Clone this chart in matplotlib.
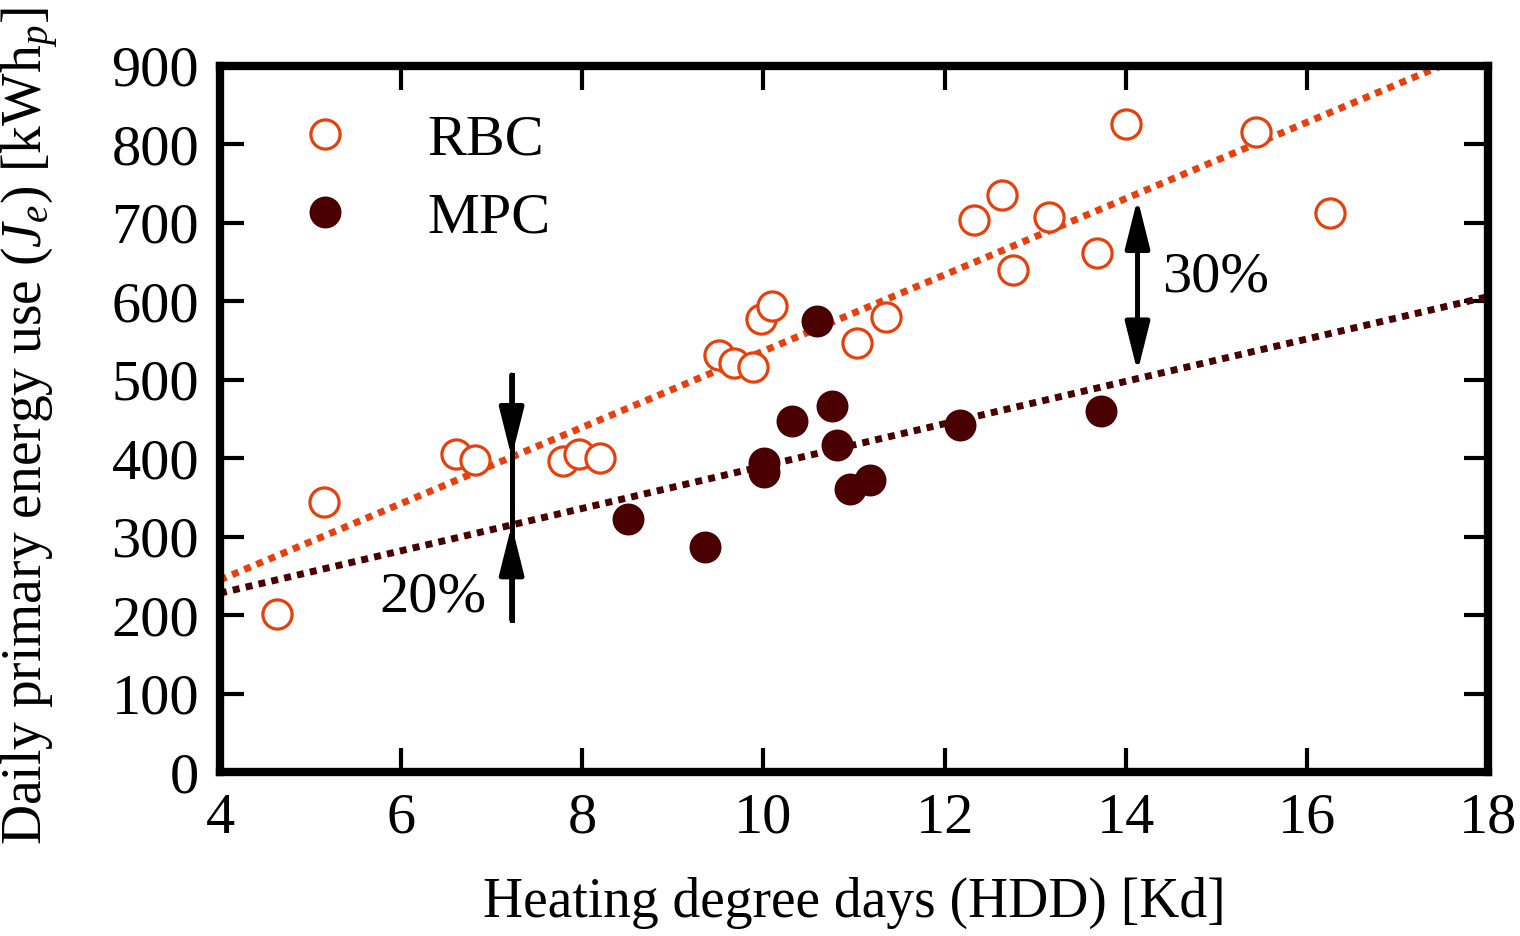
import numpy as np
import matplotlib
matplotlib.use("Agg")
import matplotlib.pyplot as plt

# data
rbc_hdd = [4.63, 5.15, 6.61, 6.82, 7.79, 7.96, 8.20, 9.51, 9.67, 9.88, 9.97, 10.10,
           11.03, 11.35, 12.32, 12.63, 12.76, 13.15, 13.68, 14.00, 15.44, 16.26]
rbc_energy = [201, 344, 405, 398, 396, 406, 400, 532, 522, 516, 577, 594,
              547, 580, 704, 736, 640, 707, 662, 826, 816, 712]

mpc_hdd = [8.51, 9.36, 10.01, 10.01, 10.32, 10.59, 10.76, 10.81, 10.96, 11.18, 12.17, 13.73]
mpc_energy = [322, 287, 394, 382, 447, 575, 466, 417, 361, 372, 442, 460]

# trend lines (slope, intercept)
rbc_fit = (48.6, 50.6)
mpc_fit = (27.0, 120.0)

xticks = [4, 6, 8, 10, 12, 14, 16, 18]
yticks = [0, 100, 200, 300, 400, 500, 600, 700, 800, 900]

c_rbc = '#e8400c'
c_mpc = '#4a0000'

plt.rcParams['font.family'] = ['Liberation Serif', 'DejaVu Serif']
plt.rcParams['mathtext.fontset'] = 'custom'
plt.rcParams['mathtext.rm'] = 'Liberation Serif'
plt.rcParams['mathtext.it'] = 'Liberation Serif:italic'
plt.rcParams['font.size'] = 42

fig = plt.figure(figsize=(15.2, 9.36), dpi=100)
ax = fig.add_axes([0.1447, 0.1752, 0.979 - 0.1447, 0.9295 - 0.1752])

xx = np.array([4, 18])
ax.plot(xx, rbc_fit[0] * xx + rbc_fit[1], color=c_rbc, lw=5,
        ls=(0, (1, 0.9)), dash_capstyle='butt', zorder=2)
ax.plot(xx, mpc_fit[0] * xx + mpc_fit[1], color=c_mpc, lw=5,
        ls=(0, (1, 0.9)), dash_capstyle='butt', zorder=2)

ax.plot(rbc_hdd, rbc_energy, 'o', ms=21, mfc='white', mec=c_rbc, mew=2.3,
        ls='none', label='RBC', zorder=3)
ax.plot(mpc_hdd, mpc_energy, 'o', ms=23, mfc=c_mpc, mec=c_mpc, mew=0,
        ls='none', label='MPC', zorder=4)

# 20% annotation
x20 = 7.22
ax.plot([x20, x20], [194, 506], color='k', lw=3.6, zorder=5)
arrow = dict(arrowstyle='-|>,head_length=1.0,head_width=0.25', lw=3.6,
             color='k', mutation_scale=30, shrinkA=0, shrinkB=0)
ax.annotate('', xy=(x20, 401), xytext=(x20, 506), arrowprops=arrow, zorder=5)
ax.annotate('', xy=(x20, 315), xytext=(x20, 194), arrowprops=arrow, zorder=5)
ax.text(6.35, 222, '20%', ha='center', va='center', zorder=6)

# 30% annotation
x30 = 14.13
arrow2 = dict(arrowstyle='<|-|>,head_length=1.0,head_width=0.25', lw=3.6,
              color='k', mutation_scale=30, shrinkA=0, shrinkB=0)
ax.annotate('', xy=(x30, 731), xytext=(x30, 510), arrowprops=arrow2, zorder=5)
ax.text(14.99, 630, '30%', ha='center', va='center', zorder=6)

ax.set_xlim(4, 18)
ax.set_ylim(0, 900)
ax.set_xticks(xticks)
ax.set_yticks(yticks)
for s in ax.spines.values():
    s.set_linewidth(6)
ax.tick_params(direction='in', length=17, width=3, top=True, right=True,
               labelsize=42, pad=15)

ax.set_xlabel('Heating degree days (HDD) [Kd]', fontsize=40)
ax.set_ylabel('Daily primary energy use ($J_e$) [kWh$_p$]', fontsize=40)
ax.xaxis.set_label_coords(0.5, -0.148)
ax.yaxis.set_label_coords(-0.125, 0.49)

ax.legend(loc='upper left', bbox_to_anchor=(0.06, 0.932), frameon=False,
          borderpad=0, borderaxespad=0, handlelength=1, handletextpad=1.25,
          labelspacing=0.42)

fig.savefig('out.png', dpi=100)
